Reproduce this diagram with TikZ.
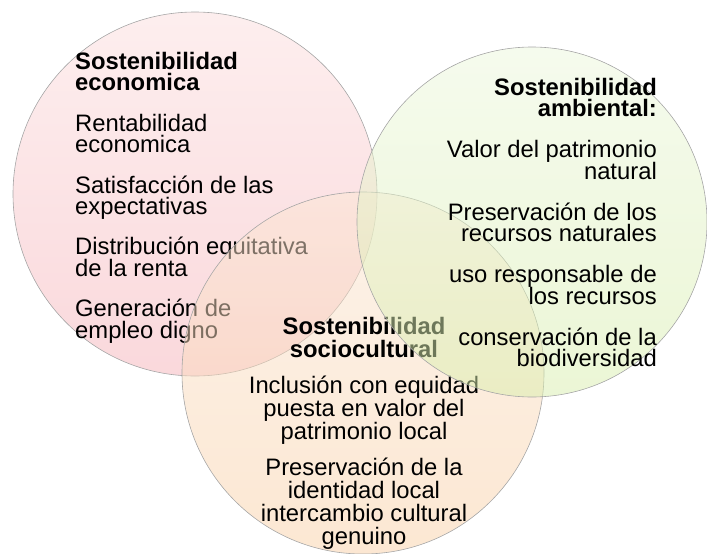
\documentclass[tikz,border=0pt]{standalone}
\usepackage{fontspec}
\setmainfont{Liberation Sans}
\definecolor{rojoA}{RGB}{252,222,222}
\definecolor{rojoB}{RGB}{245,178,185}
\definecolor{verdeA}{RGB}{236,247,220}
\definecolor{verdeB}{RGB}{216,238,172}
\definecolor{naranjaA}{RGB}{251,230,212}
\definecolor{naranjaB}{RGB}{249,208,166}
\setlength{\lineskiplimit}{-30pt}
\setlength{\lineskip}{0pt}
\begin{document}
\begin{tikzpicture}[x=1pt,y=-1pt,
	venn/.style={circle,draw=gray!70,line width=0.6pt,fill opacity=0.5,
		minimum size=#1,inner sep=0pt,outer sep=0pt},
	lista/.style={inner sep=0pt,font=\fontsize{23.8}{21.5}\selectfont},
	listab/.style={inner sep=0pt,font=\fontsize{23.8}{23}\selectfont}]
	\useasboundingbox (0,0) rectangle (707,554);
	
	\node[venn=364pt,top color=rojoA,bottom color=rojoB] (eco) at (195,194) {};
	\node[lista,align=left,anchor=north west] (txteco) at (75,52)
	{\textbf{Sostenibilidad}\\\textbf{economica}\\[18.8pt]
	Rentabilidad\\economica\\[18.8pt]
	Satisfacción de las\\expectativas\\[18.8pt]
	Distribución equitativa\\de la renta\\[18.8pt]
	Generación de\\empleo digno};
	
	\node[venn=362pt,top color=naranjaA,bottom color=naranjaB] (soc) at (363,373) {};
	\node[listab,align=center,anchor=north] (txtsoc) at (364,317)
	{\textbf{Sostenibilidad}\\\textbf{sociocultural}\\[13pt]
	Inclusión con equidad\\puesta en valor del\\patrimonio local\\[13pt]
	Preservación de la\\identidad local\\intercambio cultural\\genuino};
	
	\node[venn=350pt,top color=verdeA,bottom color=verdeB] (amb) at (532,222) {};
	\node[lista,align=right,anchor=north east] (txtamb) at (657,78)
	{\textbf{Sostenibilidad}\\\textbf{ambiental:}\\[19.5pt]
	Valor del patrimonio\\natural\\[19.5pt]
	Preservación de los\\recursos naturales\\[19.5pt]
	uso responsable de\\los recursos\\[19.5pt]
	conservación de la\\biodiversidad};
\end{tikzpicture}
\end{document}
